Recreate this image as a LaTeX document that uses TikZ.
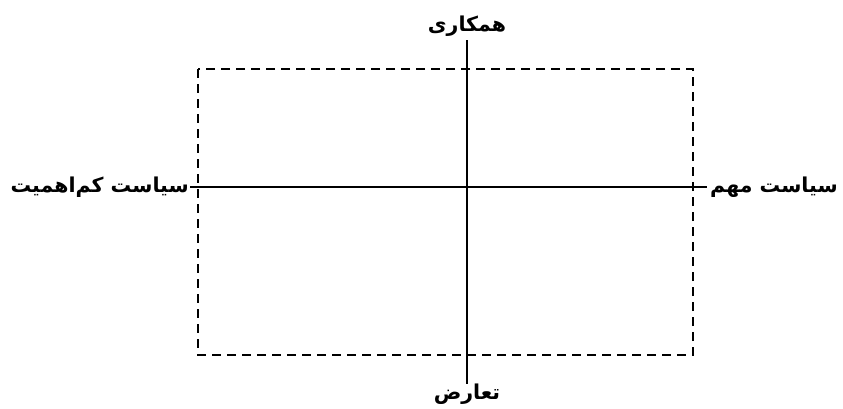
\documentclass[tikz,border=0pt]{standalone}
\usepackage{fontspec}
\newfontfamily\arabicfont[Script=Arabic]{DejaVu Sans}
\TeXXeTstate=1
\begin{document}
\begin{tikzpicture}[x=1pt,y=-1pt,
  lbl/.style={font=\arabicfont\bfseries\fontsize{20.5}{24}\selectfont, inner sep=0pt},
  axis/.style={line width=1.8pt},
  box/.style={line width=1.8pt, dash pattern=on 9pt off 6pt}]
\useasboundingbox (0,0) rectangle (843,408);
\draw[box] (198,69) rectangle (693,355);
\coordinate (t) at (467,40);
\coordinate (b) at (467,384);
\coordinate (l) at (190,187);
\coordinate (r) at (707,187);
\draw[axis] (t) -- (b);
\draw[axis] (l) -- (r);
\node[lbl, anchor=south] (top) at (467,37) {\beginR همکاری\endR};
\node[lbl, anchor=north] (bot) at (467,384) {\beginR تعارض\endR};
\node[lbl, anchor=east] (left) at (189,187) {\beginR سیاست کم‌اهمیت\endR};
\node[lbl, anchor=west] (right) at (710,187) {\beginR سیاست مهم\endR};
\end{tikzpicture}
\end{document}
